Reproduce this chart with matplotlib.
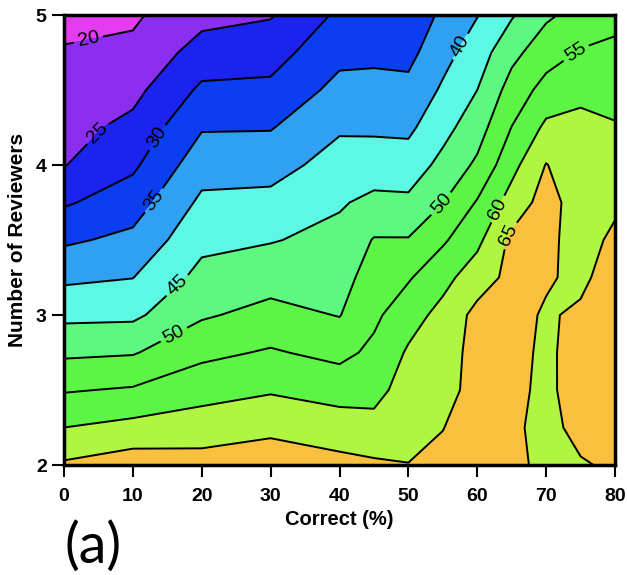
import numpy as np
import matplotlib.pyplot as plt

# grid of the data (Correct %, number of reviewers)
correct = [0, 10, 20, 30, 40, 45, 50, 55, 60, 65, 70, 75, 80]
reviewers = [2.0, 2.25, 2.5, 2.75, 3.0, 3.25, 3.5, 3.75, 4.0, 4.25, 4.5, 4.75, 5.0]

# values read column by column (one list per Correct value, bottom to top)
col_0 = [65.7, 60.0, 54.6, 49.1, 43.8, 39.0, 34.2, 29.4, 24.8, 23.3, 21.8, 20.4, 18.5]
col_10 = [67.7, 61.5, 55.5, 49.6, 44.0, 39.9, 36.2, 32.6, 29.1, 26.3, 23.6, 21.0, 19.3]
col_20 = [67.0, 62.5, 58.1, 53.8, 49.4, 46.5, 43.7, 41.0, 37.9, 34.6, 30.9, 27.1, 23.4]
col_30 = [68.0, 63.8, 59.5, 55.5, 51.6, 48.0, 44.7, 41.4, 38.1, 34.7, 31.1, 28.0, 24.6]
col_40 = [66.5, 62.3, 58.1, 53.6, 49.8, 48.1, 46.4, 44.5, 42.0, 39.4, 36.5, 33.6, 30.9]
col_45 = [65.8, 61.5, 58.5, 56.1, 54.0, 52.2, 50.3, 46.2, 42.5, 39.2, 36.4, 34.0, 32.0]
col_50 = [65.1, 63.5, 62.0, 60.6, 58.0, 54.5, 50.3, 46.0, 42.3, 39.0, 36.3, 33.6, 31.5]
col_55 = [66.0, 64.9, 63.5, 63.0, 61.5, 58.5, 54.3, 49.9, 46.4, 43.4, 40.7, 38.3, 36.0]
col_60 = [67.5, 67.0, 66.5, 66.5, 66.5, 62.6, 58.8, 55.4, 50.9, 47.8, 45.0, 42.5, 39.8]
col_65 = [65.8, 65.6, 65.8, 66.0, 66.2, 66.4, 66.1, 62.1, 58.4, 55.1, 52.0, 48.6, 44.5]
col_70 = [64.2, 64.0, 64.3, 64.4, 64.6, 65.4, 66.2, 67.0, 65.2, 61.0, 56.8, 52.8, 49.2]
col_75 = [64.7, 66.0, 66.5, 66.3, 65.6, 64.2, 63.0, 62.5, 61.8, 60.9, 59.2, 55.4, 51.7]
col_80 = [65.5, 66.2, 66.8, 67.2, 67.2, 66.8, 66.0, 64.1, 62.2, 60.4, 58.2, 56.0, 53.7]

levels = [15, 20, 25, 30, 35, 40, 45, 50, 55, 60, 65, 70]
fill_colors = ['#e63cf0', '#8c2ef0', '#1c22f0', '#0a3ef0', '#30a0f2', '#5cf8e4',
               '#5cf880', '#5cf545', '#5cf545', '#b0f542', '#f8c03c']

# where the inline labels sit
label_pos = [(3.8, 4.78), (6.0, 4.16), (13.6, 4.18), (13.2, 3.76), (16.4, 3.2),
             (16.4, 2.83), (57.9, 4.78), (54.6, 3.75), (74.0, 4.77), (63.3, 3.70),
             (64.7, 3.53)]

Z = np.array([col_0, col_10, col_20, col_30, col_40, col_45, col_50, col_55,
              col_60, col_65, col_70, col_75, col_80]).T
X, Y = np.meshgrid(correct, reviewers)

plt.rcParams['font.family'] = ['Liberation Sans', 'DejaVu Sans']

fig = plt.figure(figsize=(6.27, 5.75), dpi=100)
ax = fig.add_axes([64/627, 1 - 465/575, (615 - 64)/627, (465 - 15)/575])

ax.contourf(X, Y, Z, levels=levels, colors=fill_colors)
cl = ax.contour(X, Y, Z, levels=levels[1:-1], colors='k', linewidths=1.4)
ax.clabel(cl, fmt='%d', fontsize=14, manual=label_pos, inline_spacing=4)

ax.set_xlim(0, 80)
ax.set_ylim(2, 5)
ax.set_xticks(range(0, 81, 10))
ax.set_yticks([2, 3, 4, 5])
ax.tick_params(direction='out', length=8.5, width=1.5, labelsize=14)
ax.tick_params(axis='x', pad=8)
ax.tick_params(axis='y', pad=4)
for lab in ax.get_xticklabels() + ax.get_yticklabels():
    lab.set_fontweight('bold')
for sp in ax.spines.values():
    sp.set_linewidth(2.5)

ax.set_xlabel('Correct (%)', fontsize=14.5, fontweight='bold', labelpad=4)
ax.set_ylabel('Number of Reviewers', fontsize=15, fontweight='bold', labelpad=6)

fig.text(0.103, 0.022, '(a)', fontsize=40, family='Lato')

fig.savefig('out.png', dpi=100)
